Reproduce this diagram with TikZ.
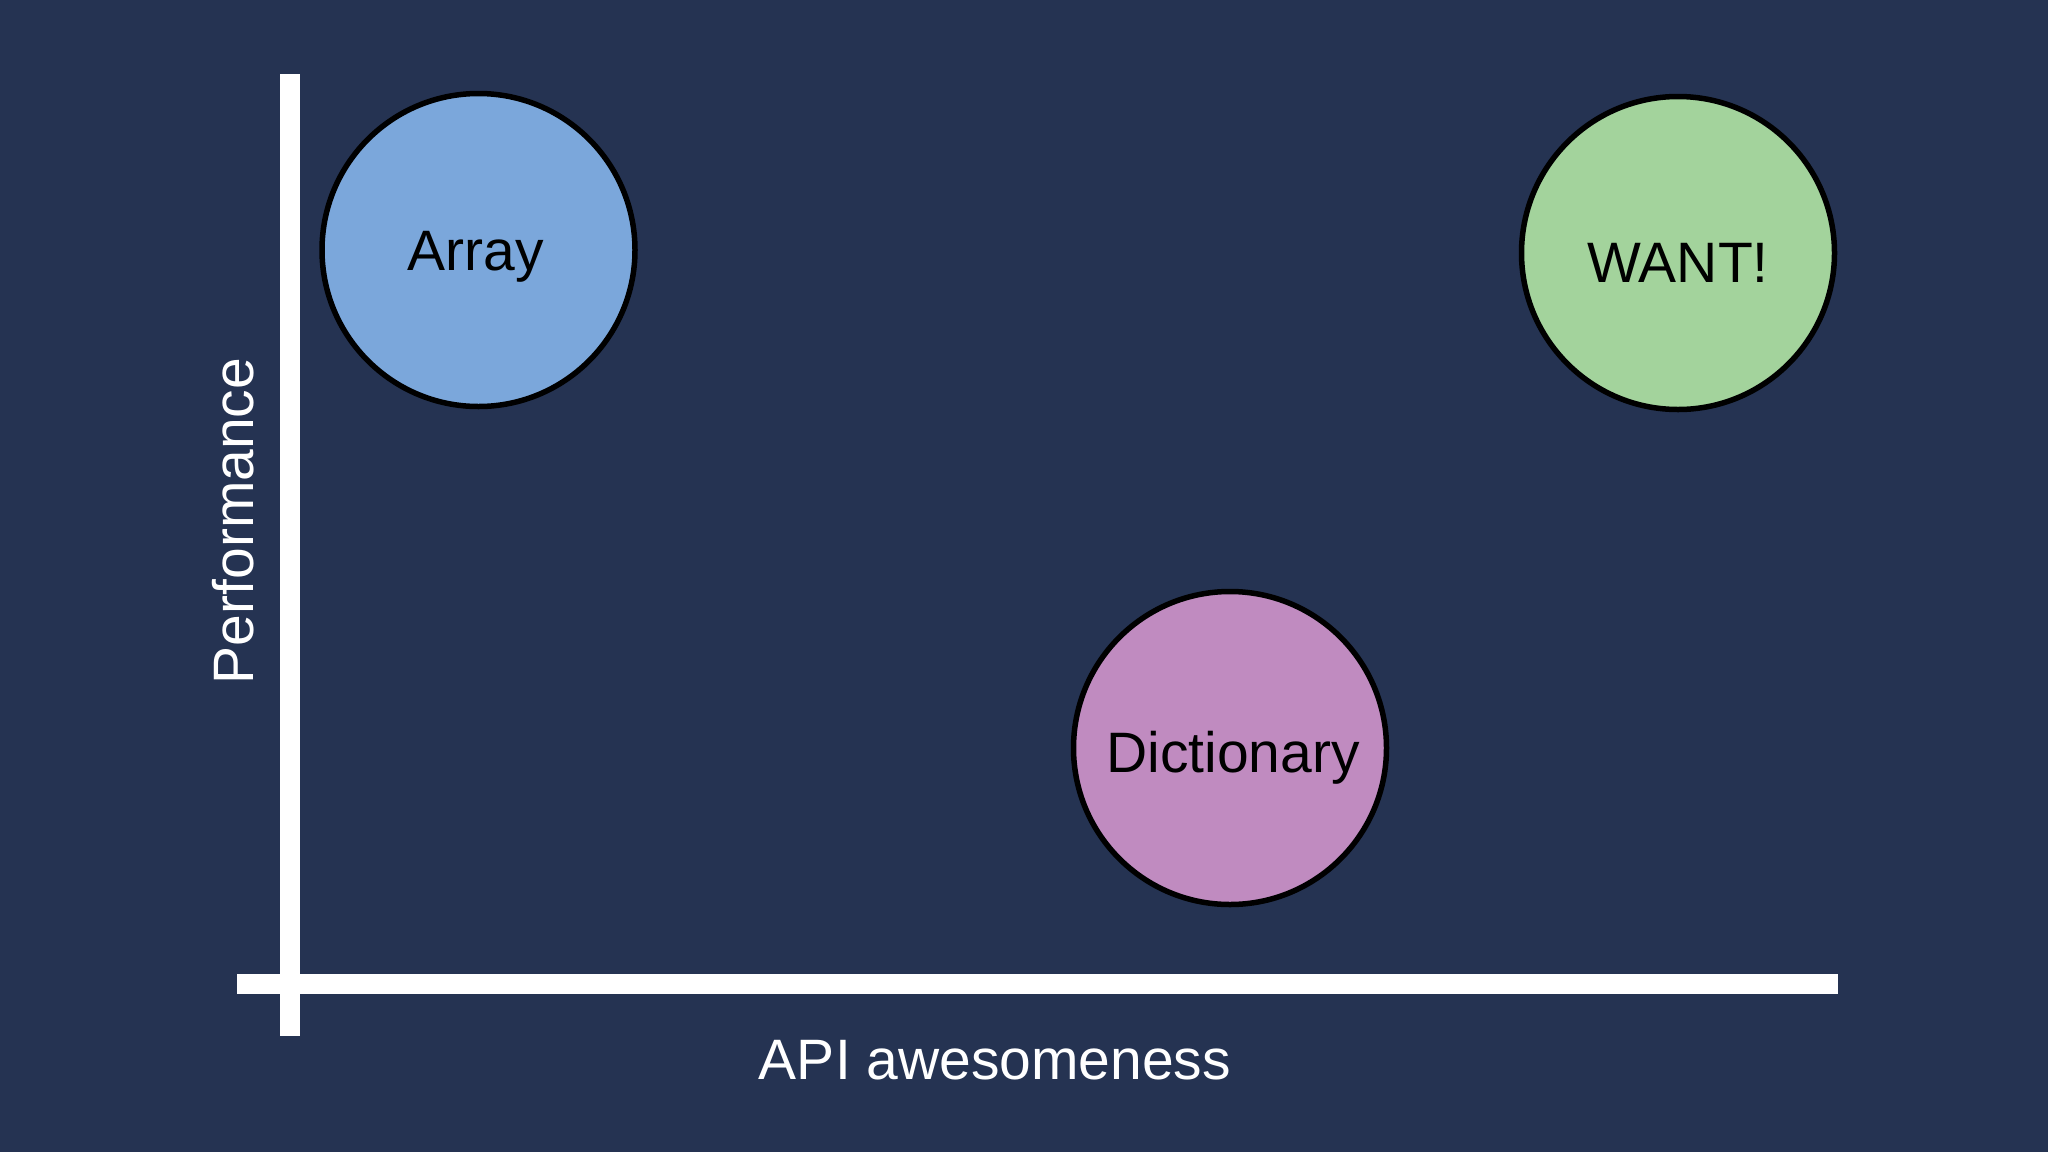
\documentclass[tikz,border=0pt]{standalone}
\usepackage{fontspec}
\setmainfont{Liberation Sans}
\definecolor{bgnavy}{RGB}{37,51,82}
\definecolor{arrblue}{RGB}{123,167,219}
\definecolor{wantgreen}{RGB}{163,211,156}
\definecolor{dictpink}{RGB}{192,139,192}
\tikzset{
  bubble/.style={circle, draw=black, line width=5.5pt, minimum size=313pt, inner sep=0pt},
  bubbletext/.style={anchor=base, inner sep=0pt, text=black, font=\fontsize{57}{68}\selectfont},
  axislabel/.style={anchor=base, inner sep=0pt, text=white, font=\fontsize{57}{68}\selectfont},
  axisline/.style={draw=white, line width=20pt}
}
\begin{document}
\begin{tikzpicture}[x=1pt,y=-1pt]
\fill[bgnavy] (0,0) rectangle (2048,1152);
\useasboundingbox (0,0) rectangle (2048,1152);
% axes
\coordinate (ytop) at (289.5,74);
\coordinate (ybot) at (289.5,1036);
\coordinate (xleft) at (237,984);
\coordinate (xright) at (1838,984);
\draw[axisline] (ytop) -- (ybot);
\draw[axisline] (xleft) -- (xright);
% bubbles
\node[bubble, fill=arrblue] (array) at (478.5,250) {};
\node[bubble, fill=wantgreen] (want) at (1678,253) {};
\node[bubble, fill=dictpink] (dict) at (1230,748) {};
\node[bubbletext] (arraytxt) at (476,270) {Array};
\node[bubbletext] (wanttxt) at (1678,282) {WANT!};
\node[bubbletext] (dicttxt) at (1233,772) {Dictionary};
% axis labels
\node[axislabel, rotate=90] (perf) at (253,521) {Performance};
\node[axislabel] (api) at (995,1079) {API awesomeness};
\end{tikzpicture}
\end{document}
